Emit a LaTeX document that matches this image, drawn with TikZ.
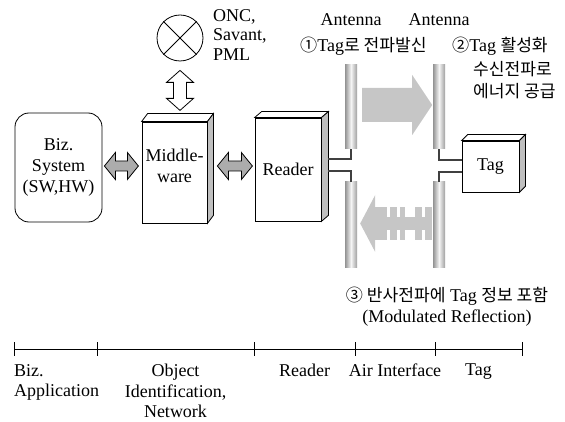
\documentclass[tikz,border=0pt]{standalone}
\usepackage{fontspec}
\setmainfont{Liberation Serif}
\newfontfamily\kr{Noto Sans CJK KR}[Scale=0.95]

\begin{document}
\begin{tikzpicture}[x=1pt,y=-1pt,font=\fontsize{18pt}{21pt}\selectfont,
		box/.style={draw,line width=0.8pt,fill=white,inner sep=0pt},
		side/.style={draw,line width=0.8pt,fill=gray!50},
		link/.style={draw,line width=0.8pt,fill=gray!65},
		hollow/.style={draw,line width=0.8pt,fill=white},
		wave/.style={fill=gray!45},
		pole/.style={minimum width=12pt,minimum height=84pt,inner sep=0pt,left color=gray!85,right color=gray!75,middle color=gray!8},
		wire/.style={draw=black!75,line width=1.2pt},
		axis/.style={line width=0.9pt}]
		\useasboundingbox (0,0) rectangle (565,422);
		\node[box,rounded corners=14pt,minimum width=87pt,minimum height=109pt,align=center] (biz) at (58.5,167.5) {Biz.\\System\\(SW,HW)};
		\node[box,minimum width=65pt,minimum height=101pt,label={[align=center,yshift=7pt]center:{Middle-\\ware}}] (mw) at (174.5,172.5) {};
		\node[box,minimum width=66pt,minimum height=103pt] (reader) at (288,169.5) {Reader};
		\node[box,minimum width=57pt,minimum height=51pt] (tag) at (490.5,166.5) {Tag};
		\foreach \b/\dx/\dy in {mw/6/-8,reader/7/-6,tag/6/-6}{
			\draw[box] (\b.north west) -- ++(\dx,\dy) -- ([shift={(\dx,\dy)}]\b.north east) -- (\b.north east) -- cycle;
			\draw[side] (\b.north east) -- ++(\dx,\dy) -- ([shift={(\dx,\dy)}]\b.south east) -- (\b.south east) -- cycle;
		}
		\node[draw,circle,minimum size=46pt,inner sep=0pt,line width=0.8pt] (onc) at (180,38) {};
		\draw[line width=0.8pt] (onc.north west) -- (onc.south east) (onc.north east) -- (onc.south west);
		\node[anchor=north west,align=left,inner sep=0pt,font=\fontsize{18pt}{19.5pt}\selectfont] (onctext) at (213,9) {ONC,\\Savant,\\PML};
		\draw[hollow] ([yshift=-9pt]onc.south) -- ++(13.5,12) -- ++(-7,0) -- ++(0,16) -- ++(7,0) -- ++(-13.5,12) -- ++(-13.5,-12) -- ++(7,0) -- ++(0,-16) -- ++(-7,0) -- cycle;
		\draw[link] (biz.east |- 0,166) ++(2,0) -- ++(11,-13.5) -- ++(0,8.5) -- ++(12,0) -- ++(0,-8.5) -- ++(11,13.5) -- ++(-11,13.5) -- ++(0,-8.5) -- ++(-12,0) -- ++(0,8.5) -- cycle;
		\draw[link] (mw.east |- 0,166) ++(10,0) -- ++(11,-13.5) -- ++(0,8.5) -- ++(13,0) -- ++(0,-8.5) -- ++(11,13.5) -- ++(-11,13.5) -- ++(0,-8.5) -- ++(-13,0) -- ++(0,8.5) -- cycle;
		\node[pole] (ant1up) at (351,107) {};
		\node[pole,minimum height=85pt] (ant1dn) at (351,224.5) {};
		\node[pole] (ant2up) at (439,107) {};
		\node[pole,minimum height=85pt] (ant2dn) at (439,224.5) {};
		\coordinate (rside) at ([xshift=7pt]reader.east);
		\draw[wire] (rside |- 0,159) -| (ant1up.south);
		\draw[wire] (rside |- 0,171) -| (ant1dn.north);
		\draw[wire] (tag.west |- 0,160) -| (ant2up.south);
		\draw[wire] (tag.west |- 0,172) -| (ant2dn.north);
		\fill[wave] (ant1up.east |- 0,88) ++(5,0) -- ++(50,0) -- ++(0,-13) -- ++(20,30) -- ++(-20,30) -- ++(0,-13) -- ++(-50,0) -- cycle;
		\fill[wave] (ant1dn.east |- 0,223.5) ++(3,0) -- ++(15,-28.5) -- ++(0,57) -- cycle;
		\fill[wave] (375,217) rectangle (432,230);
		\foreach \a/\b in {375/387,390/397,400/405,415/422,425/432}
			\fill[wave] (\a,207) rectangle (\b,240);
		\node (lbl1) at (351,20) {Antenna};
		\node (lbl2) at (439,20) {Antenna};
		\node[anchor=west,inner sep=0pt] (step1) at (300,46) {{\kr ①}Tag{\kr 로 전파발신}};
		\node[anchor=west,inner sep=0pt] (step2) at (452,46) {{\kr ②}Tag {\kr 활성화}};
		\node[anchor=west,inner sep=0pt] (step2b) at (473,69) {\kr 수신전파로};
		\node[anchor=west,inner sep=0pt] (step2c) at (473,91) {\kr 에너지 공급};
		\node[align=center,inner sep=0pt] (step3) at (447,307) {{\kr ③ 반사전파에} Tag {\kr 정보 포함}\\(Modulated Reflection)};
		\draw[axis] (14,349) -- (522,349);
		\foreach \x in {14,97,254,355,435,522}
			\draw[axis] (\x,342) -- (\x,356);
		\node[anchor=north west,align=left,inner sep=0pt,font=\fontsize{18pt}{20.5pt}\selectfont] (lay1) at (14,364) {Biz.\\Application};
		\node[anchor=north,align=center,inner sep=0pt,font=\fontsize{18pt}{20.5pt}\selectfont] (lay2) at (175.5,364) {Object\\Identification,\\Network};
		\node[anchor=north,inner sep=0pt] (lay3) at (304.5,364) {Reader};
		\node[anchor=north,inner sep=0pt] (lay4) at (395,364) {Air Interface};
		\node[anchor=north,inner sep=0pt] (lay5) at (478.5,364) {Tag};
\end{tikzpicture}
\end{document}
